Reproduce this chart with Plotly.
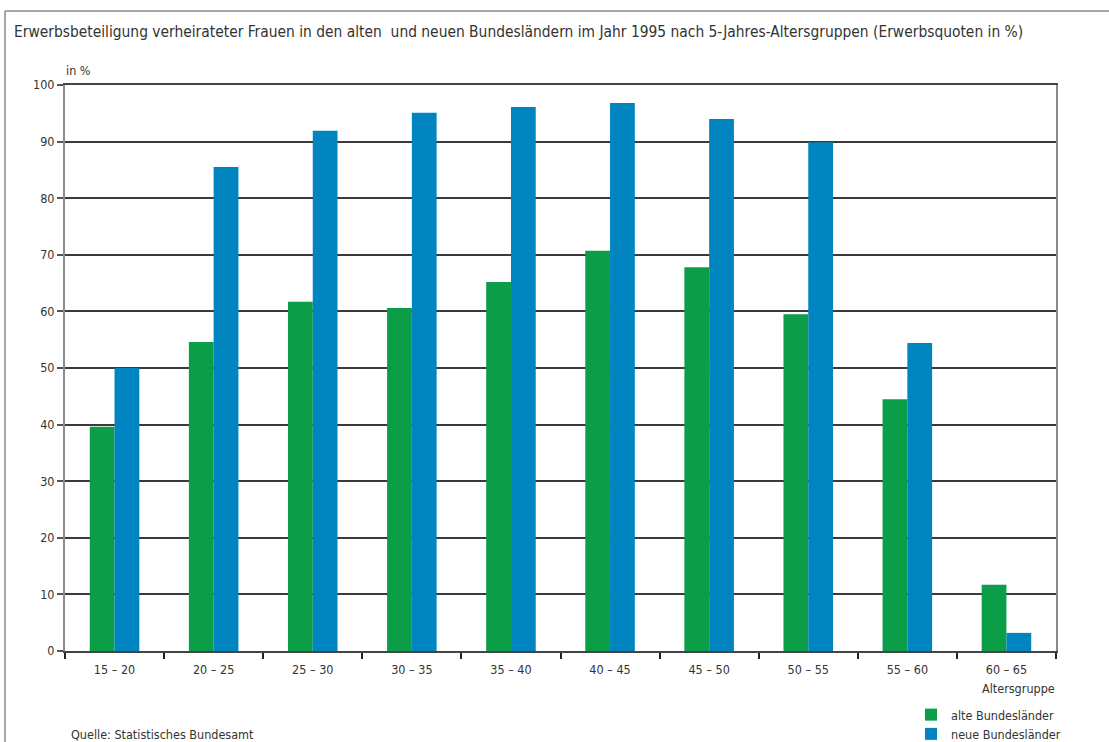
import plotly.graph_objects as go

categories = ["15 – 20", "20 – 25", "25 – 30", "30 – 35", "35 – 40",
              "40 – 45", "45 – 50", "50 – 55", "55 – 60", "60 – 65"]
alte = [39.6, 54.6, 61.7, 60.6, 65.2, 70.7, 67.8, 59.5, 44.5, 11.7]
neue = [50.0, 85.5, 91.9, 95.1, 96.1, 96.8, 94.0, 89.9, 54.4, 3.2]
series_names = ["alte Bundesländer", "neue Bundesländer"]
y_ticks = list(range(0, 101, 10))

FONT = "DejaVu Sans Condensed, Liberation Sans Narrow, Arial Narrow, sans-serif"
GREEN = "#0b9d48"
BLUE = "#0085c0"
TXT = "#333333"

W, H = 1109, 742
L, R, T, B = 65, 53, 85, 91
PW, PH = W - L - R, H - T - B

def px(x):
    return (x - L) / PW

def py(y):
    return (H - B - y) / PH

fig = go.Figure()
fig.add_trace(go.Bar(x=categories, y=alte, name=series_names[0],
                     marker=dict(color=GREEN, line=dict(width=0))))
fig.add_trace(go.Bar(x=categories, y=neue, name=series_names[1],
                     marker=dict(color=BLUE, line=dict(width=0))))

fig.update_layout(
    width=W, height=H,
    margin=dict(l=L, r=R, t=T, b=B, pad=0, autoexpand=False),
    paper_bgcolor="white", plot_bgcolor="white",
    barmode="group", bargap=0.5, bargroupgap=0,
    font=dict(family=FONT, size=12, color=TXT),
    showlegend=True,
    legend=dict(x=px(911), y=py(700), xanchor="left", yanchor="top",
                bgcolor="rgba(0,0,0,0)", borderwidth=0,
                font=dict(size=12.5, color=TXT),
                tracegroupgap=0, itemwidth=30, traceorder="normal"),
    xaxis=dict(type="category", showgrid=False, ticks="outside", tickson="boundaries",
               ticklen=6, tickwidth=1.5, tickcolor="#222", ticklabelstandoff=6,
               showline=True, linecolor="#444", linewidth=2, mirror=True,
               tickfont=dict(size=12.5, color=TXT)),
    yaxis=dict(range=[0, 100], tickvals=y_ticks, ticks="outside", ticklen=6,
               tickwidth=1.5, tickcolor="#555",
               showgrid=True, gridcolor="#3a3a3a", gridwidth=1.5,
               showline=True, linecolor="#8a8a8a", linewidth=2, mirror=True,
               zeroline=False, tickfont=dict(size=12.5, color=TXT)),
)

# outer frame (top and left rules)
fig.add_shape(type="line", xref="paper", yref="paper",
              x0=px(5), x1=px(W), y0=py(11), y1=py(11),
              line=dict(color="#8a8a8a", width=1.5))
fig.add_shape(type="line", xref="paper", yref="paper",
              x0=px(5), x1=px(5), y0=py(11), y1=py(H),
              line=dict(color="#8a8a8a", width=1.5))

annots = [
    dict(text="Erwerbsbeteiligung verheirateter Frauen in den alten  und neuen Bundesländern im Jahr 1995 nach 5-Jahres-Altersgruppen (Erwerbsquoten in %)",
         x=px(12), y=py(32), xanchor="left", yanchor="middle", size=15.4),
    dict(text="in %", x=px(64), y=py(70), xanchor="left", yanchor="middle", size=12.5),
    dict(text="Altersgruppe", x=px(1057), y=py(688), xanchor="right", yanchor="middle", size=12.5),
    dict(text="Quelle: Statistisches Bundesamt", x=px(69), y=py(734), xanchor="left", yanchor="middle", size=12.5),
]
for a in annots:
    fig.add_annotation(text=a["text"], xref="paper", yref="paper", x=a["x"], y=a["y"],
                       xanchor=a["xanchor"], yanchor=a["yanchor"], showarrow=False,
                       font=dict(family=FONT, size=a["size"], color=TXT))

fig.write_html("out.html", config={"displayModeBar": False},
               post_script="document.body.style.margin='0';")
